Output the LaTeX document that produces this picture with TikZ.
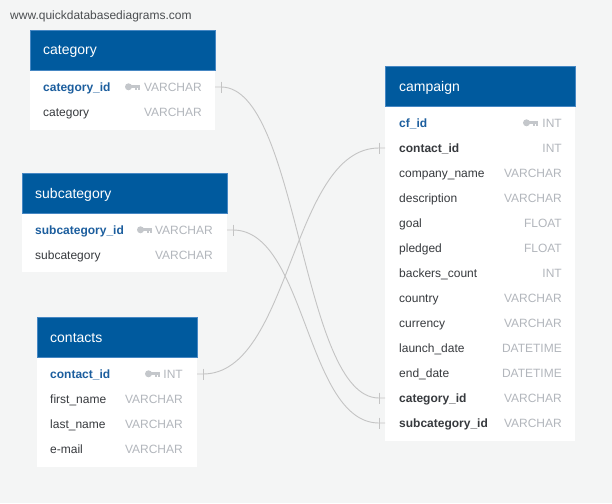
\documentclass[tikz,border=0pt]{standalone}
\usepackage{fontspec}
\setmainfont{Liberation Sans}
\usetikzlibrary{calc}
\definecolor{bg}{RGB}{244,245,245}
\definecolor{hdrblue}{RGB}{0,90,158}
\definecolor{hdrline}{RGB}{70,135,195}
\definecolor{pkblue}{RGB}{28,94,158}
\definecolor{namecol}{RGB}{55,58,62}
\definecolor{typegray}{RGB}{178,182,188}
\definecolor{keygray}{RGB}{196,199,203}
\definecolor{conncol}{RGB}{196,196,196}
\tikzset{
  hdr/.style={fill=hdrblue, draw=hdrline, line width=0.5pt, anchor=north west, inner sep=0pt, minimum height=40pt},
  tbody/.style={fill=white, anchor=north west, inner sep=0pt},
  title/.style={anchor=base west, text=white, font=\fontsize{14}{16}\selectfont, inner sep=0pt},
  fname/.style={anchor=base west, text=namecol, font=\fontsize{12}{14}\selectfont, inner sep=0pt},
  pkname/.style={anchor=base west, text=pkblue, font=\fontsize{12}{14}\selectfont\bfseries, inner sep=0pt},
  fkname/.style={anchor=base west, text=namecol, font=\fontsize{12}{14}\selectfont\bfseries, inner sep=0pt},
  ftype/.style={anchor=base east, text=typegray, font=\fontsize{12}{14}\selectfont, inner sep=0pt},
  conn/.style={draw=conncol, line width=0.9pt},
  tick/.style={draw=conncol, line width=0.9pt},
  keyicon/.pic={
    \fill[keygray] (0,0) circle (3.5);
    \fill[keygray] (2,-1.4) rectangle (11.5,1.4);
    \fill[keygray] (6.5,1.4) rectangle (8,3.4);
    \fill[keygray] (9.6,1.4) rectangle (11.5,3.4);
  }
}
\begin{document}
\begin{tikzpicture}[x=1pt,y=-1pt]
\useasboundingbox (0,0) rectangle (612,503);
\fill[bg] (0,0) rectangle (612,503);

\node[anchor=base west, text=namecol!90, font=\fontsize{12}{14}\selectfont, inner sep=0pt] (site) at (10,20) {www.quickdatabasediagrams.com};

% ---------- category ----------
\node[tbody, minimum width=185pt, minimum height=100pt] (catbody) at (30,30) {};
\node[hdr, minimum width=185pt] (cathdr) at (30,30) {};
\node[title] (cattitle) at (43,55) {category};
\node[pkname] (catid) at (43,91) {category\_id};
\pic at (128.5,86.8) {keyicon};
\node[ftype] (catidt) at (202,91) {VARCHAR};
\node[fname] (catcat) at (43,116) {category};
\node[ftype] (catcatt) at (202,116) {VARCHAR};
\coordinate (catR) at (215,87);

% ---------- subcategory ----------
\node[tbody, minimum width=205pt, minimum height=99pt] (subbody) at (22,173) {};
\node[hdr, minimum width=205pt] (subhdr) at (22,173) {};
\node[title] (subtitle) at (35,198) {subcategory};
\node[pkname] (subid) at (35,234) {subcategory\_id};
\pic at (140.5,229.8) {keyicon};
\node[ftype] (subidt) at (213,234) {VARCHAR};
\node[fname] (subsub) at (35,259) {subcategory};
\node[ftype] (subsubt) at (213,259) {VARCHAR};
\coordinate (subR) at (227,230);

% ---------- contacts ----------
\node[tbody, minimum width=160pt, minimum height=150pt] (conbody) at (37,317) {};
\node[hdr, minimum width=160pt] (conhdr) at (37,317) {};
\node[title] (contitle) at (50,342) {contacts};
\node[pkname] (conid) at (50,378) {contact\_id};
\pic at (148.5,373.8) {keyicon};
\node[ftype] (conidt) at (183,378) {INT};
\node[fname] (confn) at (50,403) {first\_name};
\node[ftype] (confnt) at (183,403) {VARCHAR};
\node[fname] (conln) at (50,428) {last\_name};
\node[ftype] (conlnt) at (183,428) {VARCHAR};
\node[fname] (conem) at (50,453) {e-mail};
\node[ftype] (conemt) at (183,453) {VARCHAR};
\coordinate (conR) at (197,374);

% ---------- campaign ----------
\node[tbody, minimum width=190pt, minimum height=375pt] (cmpbody) at (385,66) {};
\node[hdr, minimum width=190pt] (cmphdr) at (385,66) {};
\node[title] (cmptitle) at (399,91) {campaign};
\node[pkname] (cmpcf) at (399,127) {cf\_id};
\pic at (526.5,122.8) {keyicon};
\node[ftype] (cmpcft) at (562,127) {INT};
\node[fkname] (cmpcon) at (399,152) {contact\_id};
\node[ftype] (cmpcont) at (562,152) {INT};
\node[fname] (cmpco) at (399,177) {company\_name};
\node[ftype] (cmpcot) at (562,177) {VARCHAR};
\node[fname] (cmpde) at (399,202) {description};
\node[ftype] (cmpdet) at (562,202) {VARCHAR};
\node[fname] (cmpgo) at (399,227) {goal};
\node[ftype] (cmpgot) at (562,227) {FLOAT};
\node[fname] (cmppl) at (399,252) {pledged};
\node[ftype] (cmpplt) at (562,252) {FLOAT};
\node[fname] (cmpbc) at (399,277) {backers\_count};
\node[ftype] (cmpbct) at (562,277) {INT};
\node[fname] (cmpcy) at (399,302) {country};
\node[ftype] (cmpcyt) at (562,302) {VARCHAR};
\node[fname] (cmpcu) at (399,327) {currency};
\node[ftype] (cmpcut) at (562,327) {VARCHAR};
\node[fname] (cmpld) at (399,352) {launch\_date};
\node[ftype] (cmpldt) at (562,352) {DATETIME};
\node[fname] (cmped) at (399,377) {end\_date};
\node[ftype] (cmpedt) at (562,377) {DATETIME};
\node[fkname] (cmpcat) at (399,402) {category\_id};
\node[ftype] (cmpcatt) at (562,402) {VARCHAR};
\node[fkname] (cmpsub) at (399,427) {subcategory\_id};
\node[ftype] (cmpsubt) at (562,427) {VARCHAR};
\coordinate (cmpconL) at (385,148);
\coordinate (cmpcatL) at (385,398);
\coordinate (cmpsubL) at (385,423);

% ---------- connectors ----------
\coordinate (catT) at ($(catR)+(6,0)$);
\coordinate (subT) at ($(subR)+(6,0)$);
\coordinate (conT) at ($(conR)+(6,0)$);
\coordinate (cmpconT) at ($(cmpconL)+(-6,0)$);
\coordinate (cmpcatT) at ($(cmpcatL)+(-6,0)$);
\coordinate (cmpsubT) at ($(cmpsubL)+(-6,0)$);

\draw[conn] (catR) -- (catT) .. controls +(78,0) and +(-78,0) .. (cmpcatT) -- (cmpcatL);
\draw[conn] (subR) -- (subT) .. controls +(73,0) and +(-73,0) .. (cmpsubT) -- (cmpsubL);
\draw[conn] (conR) -- (conT) .. controls +(88,0) and +(-88,0) .. (cmpconT) -- (cmpconL);

\foreach \t in {catT,subT,conT,cmpconT,cmpcatT,cmpsubT}
  \draw[tick] ($(\t)+(0,-5.5)$) -- ($(\t)+(0,5.5)$);
\end{tikzpicture}
\end{document}
